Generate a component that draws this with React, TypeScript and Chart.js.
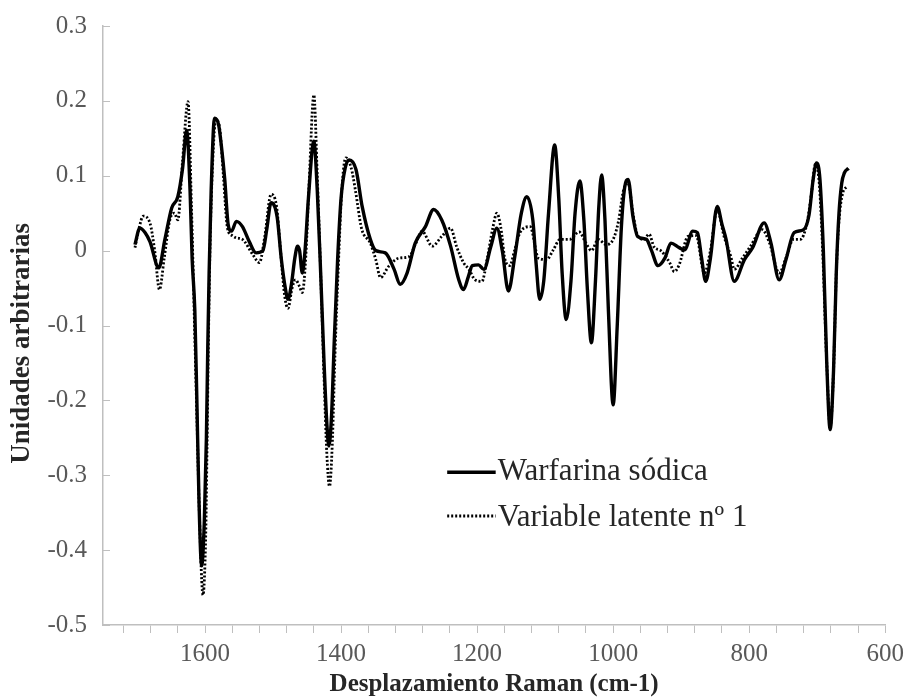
import React, { useEffect, useRef } from 'react';
import { Chart, registerables } from 'chart.js';

Chart.register(...registerables);

const seriesLabels = ['Warfarina sódica', 'Variable latente nº 1'];

const warfarinaX = [
  1703, 1696, 1688, 1681, 1668, 1659, 1649, 1640, 1633, 1627, 1622, 1619, 1615, 1612, 1609, 1605, 1601, 1598, 1596, 1594,
  1591, 1586, 1580, 1576, 1571, 1566, 1561, 1554, 1545, 1535, 1525, 1515, 1509, 1503, 1494, 1488, 1482, 1478, 1473, 1468,
  1464, 1461, 1457, 1453, 1448, 1440, 1435, 1430, 1425, 1421, 1418, 1414, 1410, 1405, 1400, 1394, 1388, 1378, 1369, 1357,
  1349, 1335, 1322, 1313, 1303, 1291, 1276, 1264, 1252, 1239, 1227, 1220, 1213, 1207, 1198, 1190, 1180, 1171, 1163, 1154,
  1145, 1135, 1127, 1118, 1113, 1108, 1102, 1095, 1086, 1080, 1075, 1069, 1062, 1056, 1049, 1043, 1038, 1032, 1026, 1021,
  1017, 1012, 1007, 1000, 994, 988, 983, 978, 971, 964, 951, 944, 934, 924, 915, 903, 895, 883, 876, 870,
  864, 857, 847, 840, 834, 822, 807, 795, 778, 768, 756, 746, 734, 720, 712, 706, 701, 696, 691, 686,
  681, 676, 672, 668, 664, 660, 654,
];
const warfarinaY = [
  0.008, 0.030, 0.024, 0.012, -0.023, 0.015, 0.057, 0.072, 0.110, 0.161, 0.080, -0.010, -0.080, -0.200, -0.330, -0.421, -0.360, -0.250, -0.130, -0.030,
  0.080, 0.177, 0.168, 0.140, 0.095, 0.035, 0.026, 0.039, 0.032, 0.012, -0.003, 0.000, 0.030, 0.064, 0.045, -0.010, -0.050, -0.065, -0.045, -0.010,
  0.006, 0.000, -0.030, 0.000, 0.070, 0.146, 0.080, -0.030, -0.150, -0.230, -0.261, -0.220, -0.120, -0.010, 0.070, 0.110, 0.121, 0.108, 0.059, 0.015,
  0.000, -0.003, -0.025, -0.045, -0.030, 0.010, 0.032, 0.055, 0.041, 0.006, -0.039, -0.052, -0.035, -0.020, -0.019, -0.025, 0.005, 0.030, 0.000, -0.054,
  -0.010, 0.050, 0.072, 0.040, -0.020, -0.065, -0.040, 0.050, 0.141, 0.070, -0.030, -0.092, -0.040, 0.050, 0.093, 0.040, -0.050, -0.123, -0.040, 0.060,
  0.101, 0.040, -0.080, -0.206, -0.100, 0.030, 0.085, 0.095, 0.046, 0.019, 0.015, 0.001, -0.020, -0.010, 0.010, 0.004, 0.001, 0.026, 0.024, -0.010,
  -0.041, -0.010, 0.059, 0.035, 0.015, -0.041, -0.012, 0.004, 0.037, 0.010, -0.039, -0.012, 0.024, 0.028, 0.048, 0.095, 0.117, 0.095, 0.000, -0.150,
  -0.239, -0.160, -0.030, 0.050, 0.090, 0.104, 0.110,
];

const latenteX = [
  1703, 1697, 1691, 1681, 1674, 1667, 1660, 1652, 1645, 1640, 1633, 1625, 1620, 1616, 1612, 1608, 1603, 1599, 1597, 1595,
  1593, 1590, 1584, 1578, 1573, 1567, 1560, 1554, 1545, 1530, 1520, 1512, 1503, 1495, 1489, 1483, 1478, 1472, 1467, 1461,
  1457, 1452, 1447, 1440, 1435, 1430, 1425, 1421, 1417, 1413, 1409, 1404, 1399, 1393, 1385, 1379, 1370, 1357, 1349, 1342,
  1330, 1315, 1300, 1290, 1281, 1266, 1252, 1239, 1230, 1220, 1212, 1203, 1193, 1185, 1177, 1171, 1165, 1159, 1152, 1145,
  1137, 1122, 1110, 1098, 1088, 1078, 1064, 1050, 1040, 1032, 1022, 1010, 1000, 992, 985, 978, 971, 964, 955, 947,
  940, 930, 917, 910, 903, 890, 878, 866, 857, 847, 837, 827, 822, 810, 798, 781, 770, 756, 746, 735,
  725, 715, 708, 703, 697, 692, 686, 681, 676, 672, 668, 663, 656,
];
const latenteY = [
  0.004, 0.030, 0.046, 0.037, 0.000, -0.052, -0.010, 0.040, 0.050, 0.041, 0.120, 0.199, 0.060, -0.080, -0.220, -0.360, -0.460, -0.380, -0.260, -0.120,
  -0.010, 0.090, 0.175, 0.160, 0.100, 0.030, 0.020, 0.017, 0.015, -0.005, -0.016, 0.020, 0.075, 0.060, 0.000, -0.060, -0.077, -0.050, -0.039, -0.048,
  -0.056, -0.010, 0.090, 0.208, 0.100, -0.030, -0.170, -0.270, -0.315, -0.260, -0.140, -0.020, 0.080, 0.124, 0.110, 0.081, 0.030, 0.010, -0.012, -0.036,
  -0.021, -0.010, -0.008, 0.010, 0.026, 0.006, 0.019, 0.030, 0.005, -0.016, -0.025, -0.039, -0.041, -0.010, 0.030, 0.050, 0.030, -0.012, -0.020, 0.000,
  0.024, 0.032, -0.010, -0.012, 0.001, 0.015, 0.015, 0.025, 0.010, 0.000, 0.015, 0.008, 0.015, 0.040, 0.080, 0.090, 0.050, 0.020, 0.015, 0.022,
  0.005, 0.000, -0.016, -0.028, -0.019, 0.019, 0.020, -0.030, 0.000, 0.055, 0.019, -0.008, -0.025, -0.010, 0.006, 0.028, 0.010, -0.030, -0.010, 0.015,
  0.015, 0.037, 0.080, 0.115, 0.090, 0.000, -0.150, -0.235, -0.160, -0.030, 0.040, 0.075, 0.086,
];

const xTickValues = [
  1720, 1680, 1640, 1600, 1560, 1520, 1480, 1440, 1400, 1360, 1320, 1280, 1240, 1200, 1160, 1120, 1080, 1040, 1000,
  960, 920, 880, 840, 800, 760, 720, 680, 640, 600,
];
const xLabelValues = [1600, 1400, 1200, 1000, 800, 600];
const yTickValues = [0.3, 0.2, 0.1, 0, -0.1, -0.2, -0.3, -0.4, -0.5];

const xTitle = 'Desplazamiento Raman (cm-1)';
const yTitle = 'Unidades arbitrarias';

const SERIF = '"Liberation Serif", "Times New Roman", Times, serif';

const yInsideTicks = {
  id: 'yInsideTicks',
  afterDraw(chart: any) {
    const { ctx, chartArea, scales } = chart;
    const ys = scales.y;
    ctx.save();
    ctx.strokeStyle = '#bfbfbf';
    ctx.lineWidth = 1;
    yTickValues.forEach((v) => {
      const py = Math.round(ys.getPixelForValue(v)) + 0.5;
      ctx.beginPath();
      ctx.moveTo(chartArea.left, py);
      ctx.lineTo(chartArea.left + 7, py);
      ctx.stroke();
    });
    ctx.restore();
  },
};

const yTitlePlugin = {
  id: 'yTitlePlugin',
  afterDraw(chart: any) {
    const { ctx, chartArea } = chart;
    const h = chartArea.bottom - chartArea.top;
    ctx.save();
    ctx.translate(22, chartArea.top + 0.53 * h);
    ctx.rotate(-Math.PI / 2);
    ctx.font = `bold 27px ${SERIF}`;
    ctx.fillStyle = '#262626';
    ctx.textAlign = 'center';
    ctx.textBaseline = 'middle';
    ctx.fillText(yTitle, 0, 0);
    ctx.restore();
  },
};

const legendPlugin = {
  id: 'insideLegend',
  afterDraw(chart: any) {
    const { ctx, chartArea } = chart;
    const w = chartArea.right - chartArea.left;
    const h = chartArea.bottom - chartArea.top;
    const x0 = chartArea.left + 0.44 * w;
    const x1 = chartArea.left + 0.502 * w;
    const rows = [
      { lineY: chartArea.top + 0.745 * h, baseY: chartArea.top + 0.758 * h },
      { lineY: chartArea.top + 0.818 * h, baseY: chartArea.top + 0.834 * h },
    ];
    ctx.save();
    chart.data.datasets.forEach((ds: any, i: number) => {
      const r = rows[i];
      ctx.beginPath();
      ctx.strokeStyle = '#000';
      ctx.lineWidth = i === 0 ? 3.5 : 3;
      ctx.setLineDash(ds.borderDash || []);
      ctx.moveTo(x0, r.lineY);
      ctx.lineTo(x1, r.lineY);
      ctx.stroke();
      ctx.setLineDash([]);
      ctx.font = `31px ${SERIF}`;
      ctx.fillStyle = '#262626';
      ctx.textAlign = 'left';
      ctx.textBaseline = 'alphabetic';
      ctx.fillText(ds.label, x1 + 2, r.baseY);
    });
    ctx.restore();
  },
};

export default function App() {
  const canvasRef = useRef<HTMLCanvasElement | null>(null);

  useEffect(() => {
    document.body.style.margin = '0';
    const canvas = canvasRef.current;
    if (!canvas) return;
    const chart = new Chart(canvas, {
      type: 'line',
      data: {
        datasets: [
          {
            label: seriesLabels[0],
            data: warfarinaX.map((x, i) => ({ x, y: warfarinaY[i] })),
            borderColor: '#000',
            borderWidth: 3.4,
            pointRadius: 0,
            cubicInterpolationMode: 'monotone',
            fill: false,
            order: 1,
          },
          {
            label: seriesLabels[1],
            data: latenteX.map((x, i) => ({ x, y: latenteY[i] })),
            borderColor: '#000',
            borderWidth: 2.8,
            borderDash: [2, 2],
            pointRadius: 0,
            cubicInterpolationMode: 'monotone',
            fill: false,
            order: 0,
          },
        ],
      },
      options: {
        responsive: false,
        animation: false,
        devicePixelRatio: 1,
        layout: { padding: { top: 26, right: 19, bottom: 0, left: 0 } },
        plugins: {
          legend: { display: false },
          tooltip: { enabled: false },
        },
        scales: {
          x: {
            type: 'linear',
            min: 600,
            max: 1750,
            reverse: true,
            afterBuildTicks: (scale: any) => {
              scale.ticks = xTickValues.map((v) => ({ value: v }));
            },
            afterFit: (scale: any) => {
              scale.height = 75;
            },
            grid: {
              drawOnChartArea: false,
              drawTicks: true,
              tickLength: 8,
              color: '#bfbfbf',
            },
            border: { display: true, color: '#bfbfbf', width: 1.5 },
            ticks: {
              autoSkip: false,
              maxRotation: 0,
              minRotation: 0,
              padding: 6,
              color: '#595959',
              font: { family: SERIF, size: 25 },
              callback: (v: any) => (xLabelValues.includes(Number(v)) ? String(v) : ''),
            },
            title: {
              display: true,
              text: xTitle,
              color: '#262626',
              font: { family: SERIF, size: 25, weight: 'bold' },
              padding: { top: 0, bottom: 0 },
            },
          },
          y: {
            type: 'linear',
            min: -0.5,
            max: 0.3,
            afterBuildTicks: (scale: any) => {
              scale.ticks = yTickValues.map((v) => ({ value: v }));
            },
            afterFit: (scale: any) => {
              scale.width = 103;
              scale.paddingTop = 0;
              scale.paddingBottom = 0;
            },
            grid: { drawOnChartArea: false, drawTicks: false },
            border: { display: true, color: '#bfbfbf', width: 1.5 },
            ticks: {
              padding: 16,
              color: '#595959',
              font: { family: SERIF, size: 25, lineHeight: 1 },
              callback: (v: any) => String(Math.round(Number(v) * 10) / 10),
            },
            title: { display: false },
          },
        },
      },
      plugins: [yInsideTicks, yTitlePlugin, legendPlugin],
    } as any);
    return () => {
      chart.destroy();
    };
  }, []);

  return (
    <div style={{ width: 910, height: 700 }}>
      <canvas ref={canvasRef} width={910} height={700} style={{ display: 'block' }} />
    </div>
  );
}
